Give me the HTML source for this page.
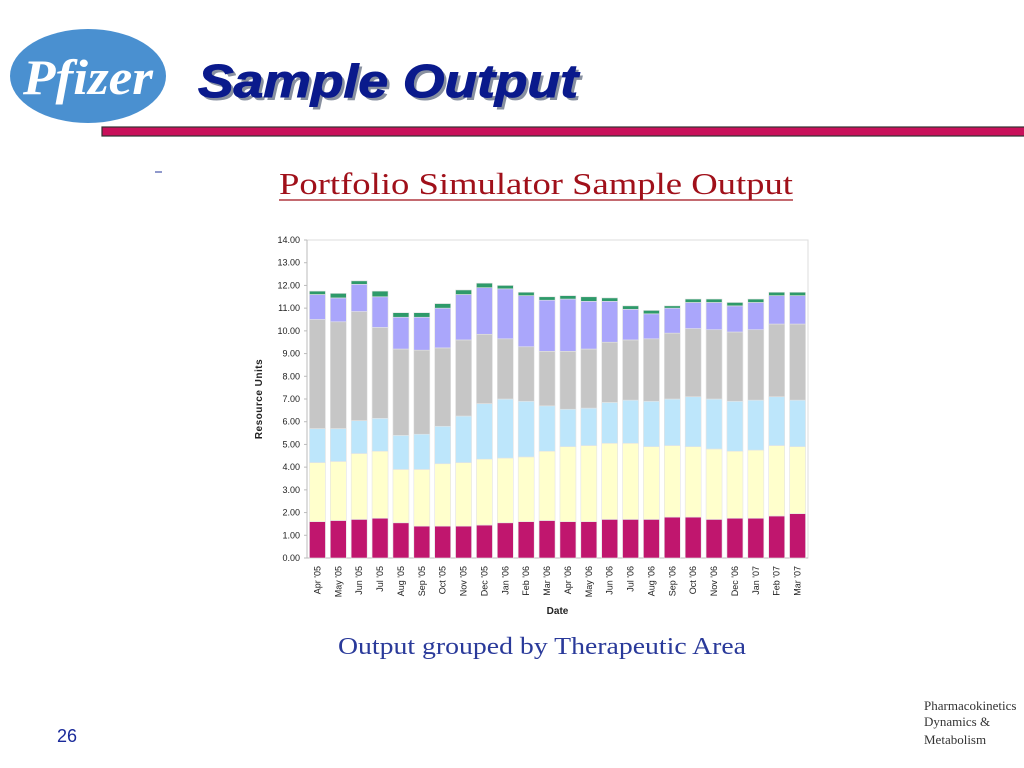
<!DOCTYPE html>
<html><head><meta charset="utf-8">
<style>
body{margin:0;width:1024px;height:768px;background:#fff;position:relative;overflow:hidden;font-family:"Liberation Sans",sans-serif}
.abs{position:absolute}
</style></head>
<body>
<svg class="abs" style="left:0;top:0" width="1024" height="768">
  <g>
    <ellipse cx="88" cy="76" rx="78" ry="47" fill="#4a90d0"/>
    <text x="88" y="94" text-anchor="middle" font-family="Liberation Serif,serif" font-style="italic" font-weight="bold" font-size="50" fill="#fff" textLength="130" lengthAdjust="spacingAndGlyphs">Pfizer</text>
  </g>
  <text x="201" y="100" font-family="Liberation Sans,sans-serif" font-style="italic" font-weight="bold" font-size="46" fill="#8890a0" textLength="380" lengthAdjust="spacingAndGlyphs">Sample Output</text>
  <text x="198" y="97" font-family="Liberation Sans,sans-serif" font-style="italic" font-weight="bold" font-size="46" fill="#0a1a8c" stroke="#0a1a8c" stroke-width="1" textLength="380" lengthAdjust="spacingAndGlyphs">Sample Output</text>
  <rect x="102" y="127" width="930" height="9" fill="#c8105a" stroke="#333" stroke-width="1.2"/>
  <text x="279" y="194" font-family="Liberation Serif,serif" font-size="31" fill="#a0101a" textLength="514" lengthAdjust="spacingAndGlyphs">Portfolio Simulator Sample Output</text>
  <line x1="279" y1="200" x2="793" y2="200" stroke="#a0101a" stroke-width="1.3"/>
  <line x1="155" y1="172" x2="162" y2="172" stroke="#223399" stroke-width="1"/>
  <text x="338" y="654" font-family="Liberation Serif,serif" font-size="24" fill="#2a3a9a" textLength="408" lengthAdjust="spacingAndGlyphs">Output grouped by Therapeutic Area</text>
  <text x="57" y="742" font-size="18" fill="#1a2a9a">26</text>
  <g font-family="Liberation Serif,serif" font-size="13" fill="#333">
    <text x="924" y="710">Pharmacokinetics</text>
    <text x="924" y="726">Dynamics &amp;</text>
    <text x="924" y="744">Metabolism</text>
  </g>
  <g id="chart"></g>
</svg>
<script>
const categories=["Apr '05","May '05","Jun '05","Jul '05","Aug '05","Sep '05","Oct '05","Nov '05","Dec '05","Jan '06","Feb '06","Mar '06","Apr '06","May '06","Jun '06","Jul '06","Aug '06","Sep '06","Oct '06","Nov '06","Dec '06","Jan '07","Feb '07","Mar '07"];
const seriesMagenta=[1.6,1.65,1.7,1.75,1.55,1.4,1.4,1.4,1.45,1.55,1.6,1.65,1.6,1.6,1.7,1.7,1.7,1.8,1.8,1.7,1.75,1.75,1.85,1.95];
const seriesYellow=[2.6,2.6,2.9,2.95,2.35,2.5,2.75,2.8,2.9,2.85,2.85,3.05,3.3,3.35,3.35,3.35,3.2,3.15,3.1,3.1,2.95,3.0,3.1,2.95];
const seriesBlue=[1.5,1.45,1.45,1.45,1.5,1.55,1.65,2.05,2.45,2.6,2.45,2.0,1.65,1.65,1.8,1.9,2.0,2.05,2.2,2.2,2.2,2.2,2.15,2.05];
const seriesGray=[4.8,4.7,4.8,4.0,3.8,3.7,3.45,3.35,3.05,2.65,2.4,2.4,2.55,2.6,2.65,2.65,2.75,2.9,3.0,3.05,3.05,3.1,3.2,3.35];
const seriesPurple=[1.1,1.05,1.2,1.35,1.4,1.45,1.75,2.0,2.05,2.2,2.25,2.25,2.3,2.1,1.8,1.35,1.1,1.1,1.15,1.2,1.15,1.2,1.25,1.25];
const seriesGreen=[0.15,0.2,0.15,0.25,0.2,0.2,0.2,0.2,0.2,0.15,0.15,0.15,0.15,0.2,0.15,0.15,0.15,0.1,0.15,0.15,0.15,0.15,0.15,0.15];
const yTicks=[0,1,2,3,4,5,6,7,8,9,10,11,12,13,14];

const NS="http://www.w3.org/2000/svg";
const g=document.getElementById('chart');
const L=307,R=808,T=240,B=558,YMAX=14;
const y=v=>B-(v/YMAX)*(B-T);
const step=(R-L)/categories.length;
const x=i=>L+i*step;
function mk(tag,attrs,parent){const e=document.createElementNS(NS,tag);for(const k in attrs)e.setAttribute(k,attrs[k]);(parent||g).appendChild(e);return e;}

const frame=mk('rect',{x:L,y:T,width:R-L,height:B-T,fill:'none',stroke:'#ddd','stroke-width':1});


const yAxis=mk('line',{x1:L,y1:T,x2:L,y2:B,stroke:'#bbb'});


const xAxis=mk('line',{x1:L,y1:B,x2:R,y2:B,stroke:'#bbb'});



yTicks.forEach(t=>{
  const tx=mk('text',{x:L-7,y:y(t)+3,'text-anchor':'end','font-size':9,fill:'#222'});
  tx.textContent=t.toFixed(2);
  
  
  mk('line',{x1:L-3,y1:y(t),x2:L,y2:y(t),stroke:'#bbb'});
});

const series=[[seriesMagenta,'#c0166e'],[seriesYellow,'#ffffcc'],[seriesBlue,'#bde6fb'],[seriesGray,'#c6c6c6'],[seriesPurple,'#aaa6fb'],[seriesGreen,'#2e9a6a']];
const bw=16;
categories.forEach((c,i)=>{
  let acc=0;
  const cx=x(i)+step/2;
  series.forEach(([arr,col],si)=>{
    const v=arr[i];
    const r=mk('rect',{x:cx-bw/2,y:y(acc+v),width:bw,height:y(acc)-y(acc+v),fill:col,stroke:'#e4e4e4','stroke-width':0.6});
    
    
    acc+=v;
  });
  const lab=mk('text',{transform:`translate(${cx+3},${B+8}) rotate(-90)`,'text-anchor':'end','font-size':9,fill:'#222'});
  lab.textContent=c;
  
  
});

const yt=mk('text',{transform:`translate(262,${(T+B)/2}) rotate(-90)`,'text-anchor':'middle','font-size':10,'font-weight':'bold',fill:'#222','letter-spacing':'0.5'});
yt.textContent='Resource Units';


const xt=mk('text',{x:(L+R)/2,y:614,'text-anchor':'middle','font-size':10,'font-weight':'bold',fill:'#222'});
xt.textContent='Date';


</script>
</body></html>
